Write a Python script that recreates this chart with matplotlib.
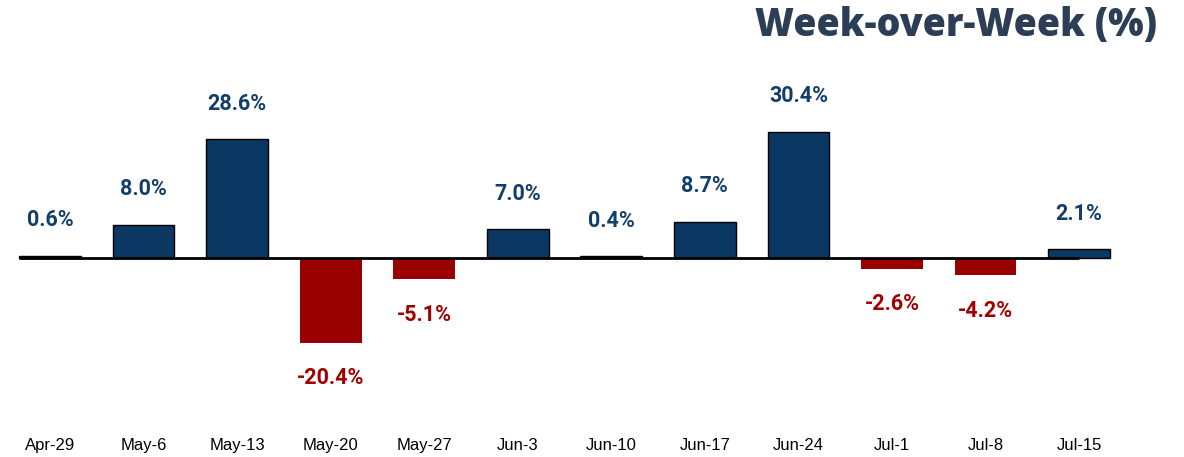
import matplotlib
matplotlib.use("Agg")
import matplotlib.pyplot as plt
import numpy as np

weeks = ["Apr-29", "May-6", "May-13", "May-20", "May-27", "Jun-3",
         "Jun-10", "Jun-17", "Jun-24", "Jul-1", "Jul-8", "Jul-15"]
wow_pct = [0.6, 8.0, 28.6, -20.4, -5.1, 7.0, 0.4, 8.7, 30.4, -2.6, -4.2, 2.1]

BLUE = "#0B3763"
RED = "#990000"
BLUE_TXT = "#123E69"
RED_TXT = "#A00000"
TITLE_C = "#2C3E56"

fig = plt.figure(figsize=(11.84, 4.57), dpi=100)
ax = fig.add_axes([0, 27 / 457, 1, 1 - 27 / 457])

x = np.arange(len(weeks))
w = 0.66
colors = [BLUE if v >= 0 else RED for v in wow_pct]
for xi, v, c in zip(x, wow_pct, colors):
    ax.bar(xi, v, width=w, color=c,
           edgecolor="black" if v >= 0 else c,
           linewidth=1.0 if v >= 0 else 0, zorder=2)

ax.hlines(0, x[0] - w / 2, x[-1], color="black", linewidth=2, zorder=3)

off = 8.5
for xi, v in zip(x, wow_pct):
    if v >= 0:
        ax.text(xi, v + off, f"{v:.1f}%", ha="center", va="center",
                fontsize=15.5, fontweight="bold", color=BLUE_TXT, family="Roboto")
    else:
        ax.text(xi, v - off, f"{v:.1f}%", ha="center", va="center",
                fontsize=15.5, fontweight="bold", color=RED_TXT, family="Roboto")

ax.set_xlim(-50 / 93.55, (1184 - 50) / 93.55)
ax.set_ylim(-(430 - 258) / 4.16, 258 / 4.16)
ax.set_xticks(x)
ax.set_xticklabels(weeks, fontsize=12, family="Liberation Sans")
ax.tick_params(axis="x", length=0, pad=6)
ax.set_yticks([])
for s in ax.spines.values():
    s.set_visible(False)

fig.text(1157 / 1184, 1 - 25 / 457, "Week-over-Week (%)", ha="right", va="center",
         fontsize=27, fontweight="heavy", color=TITLE_C, family="Open Sans")

fig.savefig("out.png", dpi=100)
